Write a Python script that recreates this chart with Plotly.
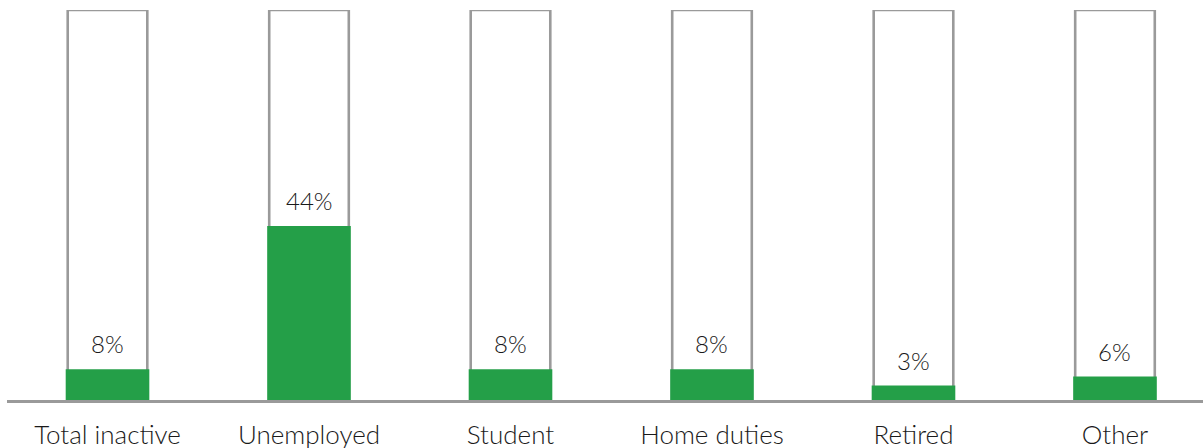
import plotly.graph_objects as go

categories = ["Total inactive", "Unemployed", "Student", "Home duties", "Retired", "Other"]
values = [7.9, 44.6, 7.9, 7.9, 3.7, 6.0]
labels = ["8%", "44%", "8%", "8%", "3%", "6%"]
full = [100] * len(categories)

GREEN = "#249f48"
GRAY = "#9a9a9a"
FONT = dict(family="Lato, Raleway, sans-serif", size=24, color="#1a1a1a", weight=300)

fig = go.Figure()
fig.add_trace(go.Bar(
    x=categories, y=full, width=0.395,
    marker=dict(color="rgba(0,0,0,0)", line=dict(color=GRAY, width=2.6)),
    hoverinfo="skip", showlegend=False,
))
fig.add_trace(go.Bar(
    x=categories, y=values, width=0.415,
    marker=dict(color=GREEN, line=dict(width=0)),
    showlegend=False,
))

for c, v, t in zip(categories, values, labels):
    fig.add_annotation(x=c, y=v, text=t, showarrow=False, yanchor="bottom",
                       yshift=9, font=FONT)

fig.update_layout(
    barmode="overlay",
    width=1203, height=448,
    margin=dict(l=7, r=0, t=10, b=48, autoexpand=False),
    paper_bgcolor="white", plot_bgcolor="white",
    font=FONT,
)
fig.update_xaxes(
    range=[-0.4988, 5.4368], showline=True, linecolor=GRAY, linewidth=2.5,
    showgrid=False, ticks="", automargin=False,
    tickfont=dict(family="Lato, Raleway, sans-serif", size=26, color="#1a1a1a", weight=300),
    ticklabelstandoff=10,
)
fig.update_yaxes(range=[0, 100], visible=False, showgrid=False, zeroline=False, automargin=False)

fig.write_html("out.html", config={"displayModeBar": False},
               post_script="document.body.style.margin='0';")
